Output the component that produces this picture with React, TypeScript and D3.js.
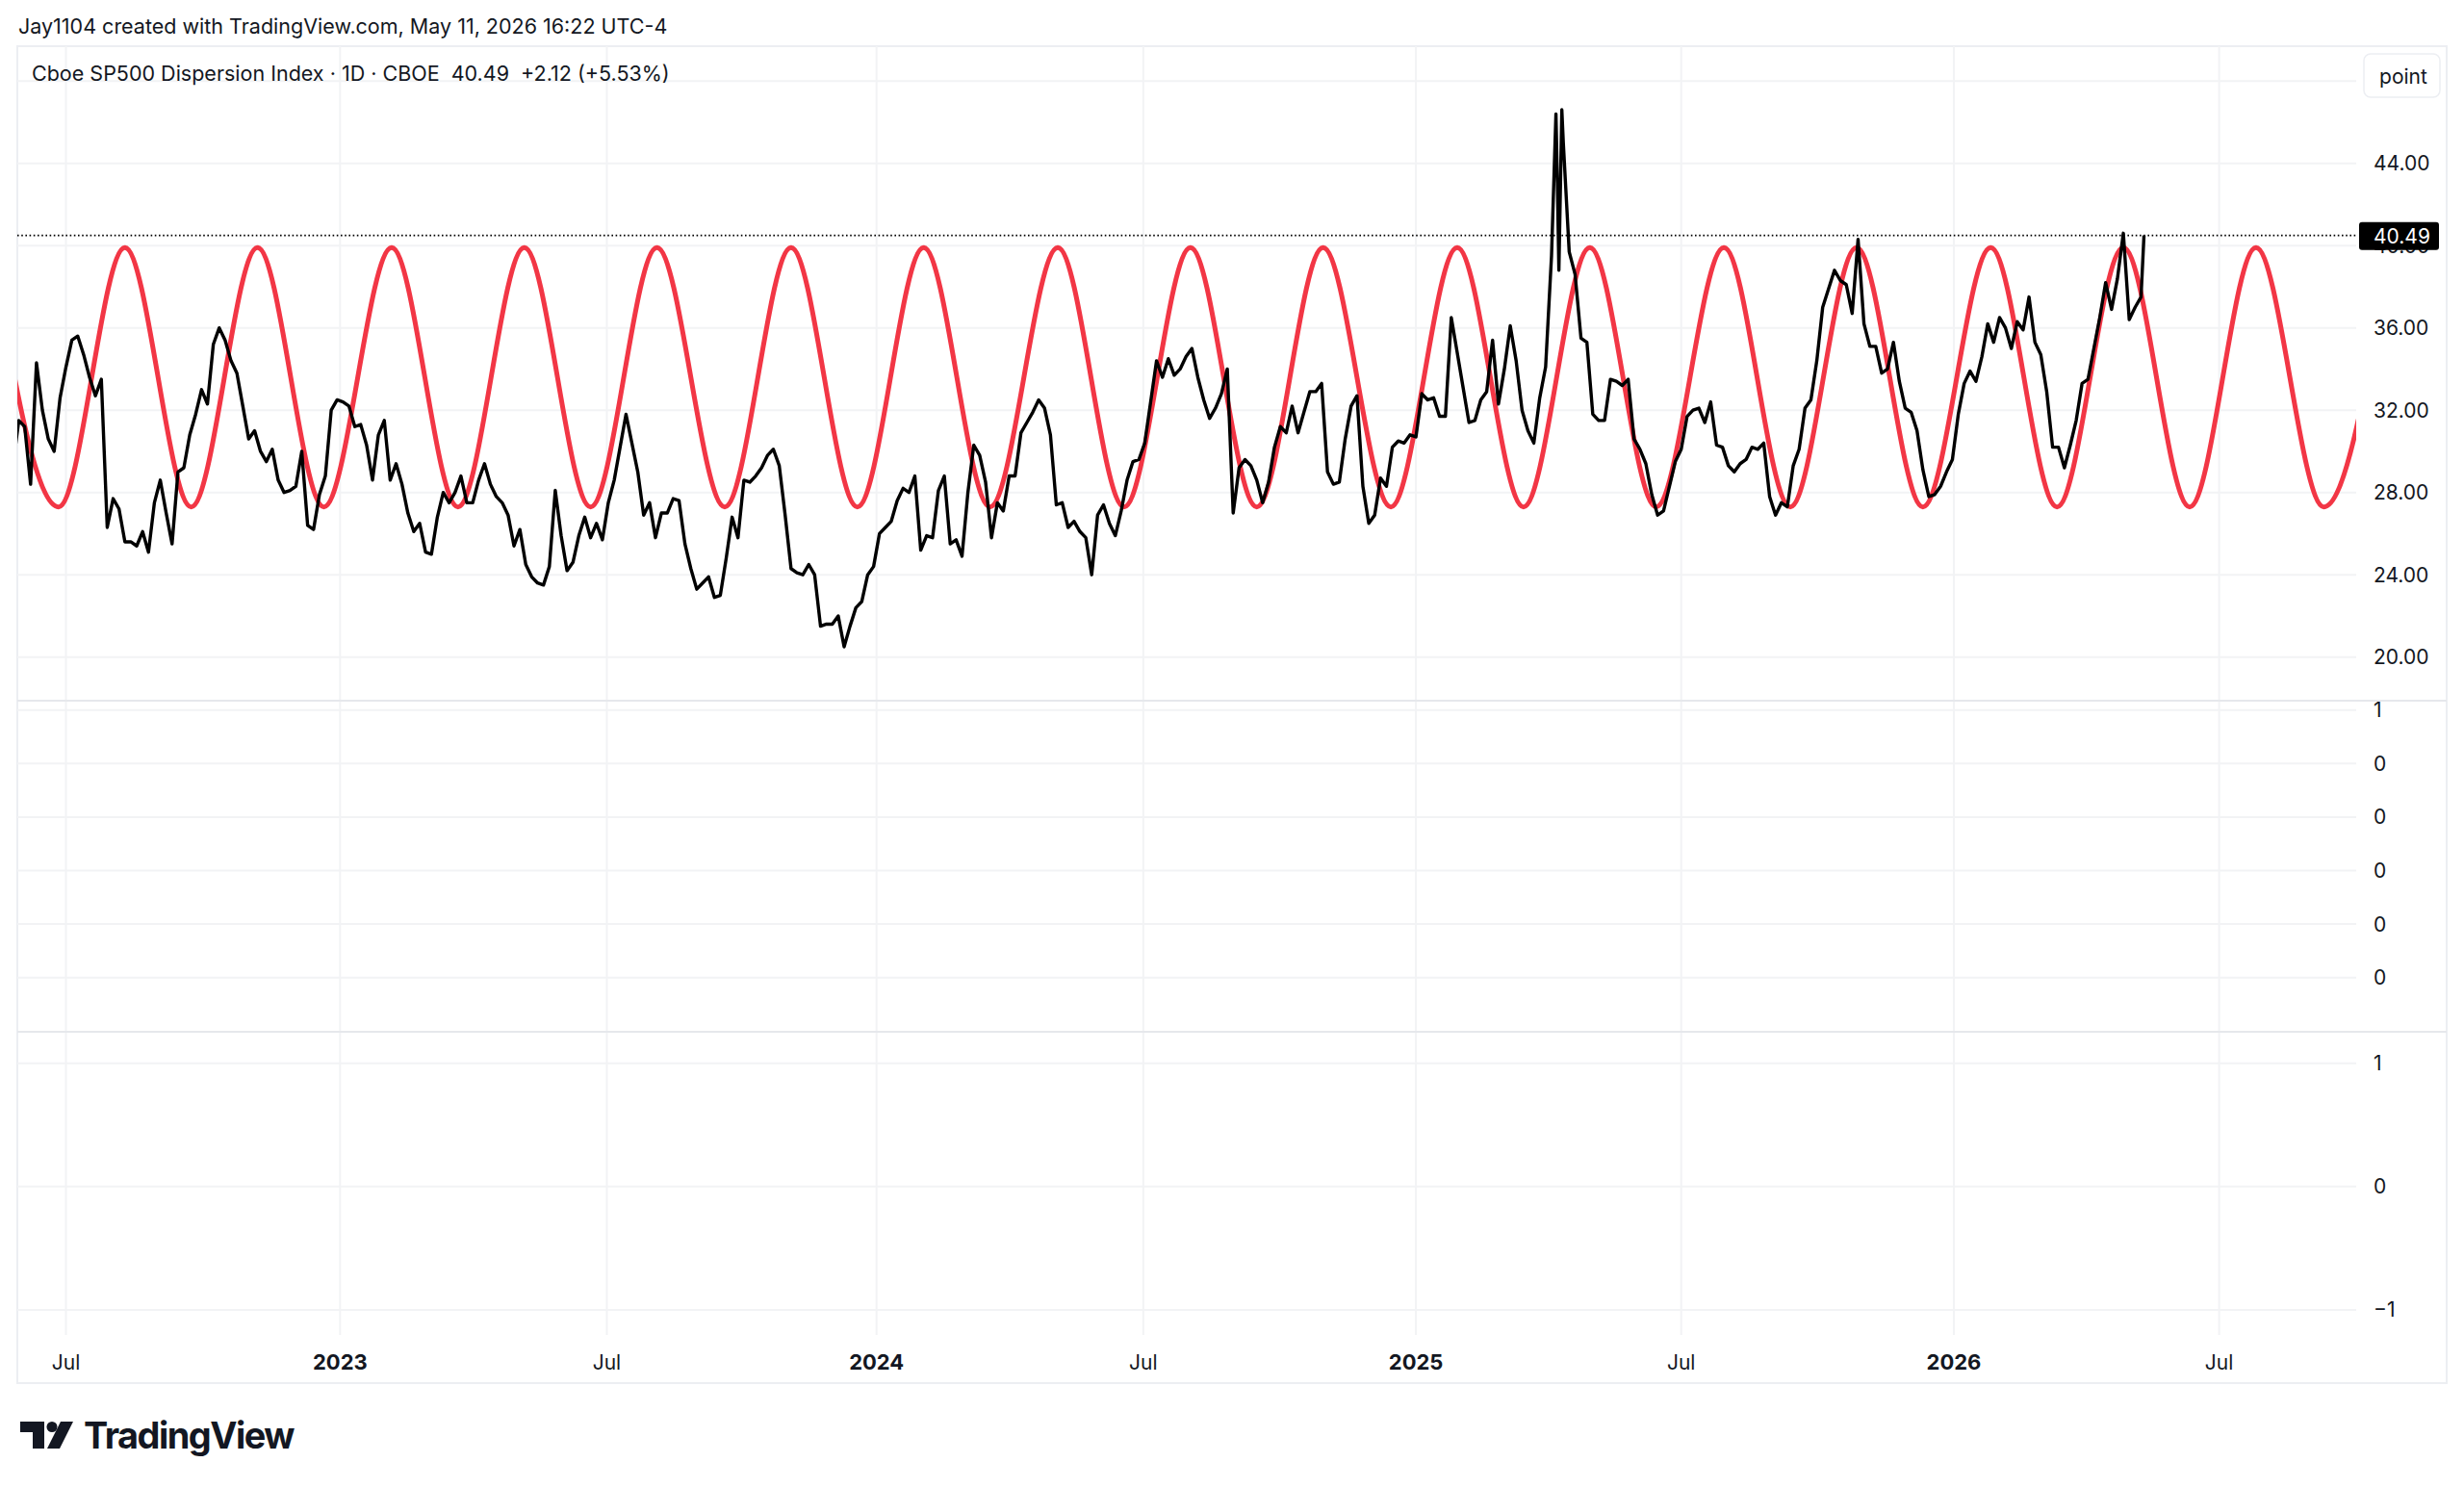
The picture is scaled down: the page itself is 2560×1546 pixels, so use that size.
import { useEffect, useRef } from 'react';
import * as d3 from 'd3';

// Cboe SP500 Dispersion Index (DSPX), daily close every 4 days
const seriesStart = '2022-05-26';
const sampleStepDays = 4;

const dspx2022 = [
  29.3, 31.5, 31.2, 28.4, 34.3, 32.0, 30.6, 30.0, 32.6, 34.1,
  35.4, 35.6, 34.7, 33.6, 32.7, 33.5, 26.3, 27.7, 27.2, 25.6,
  25.6, 25.4, 26.1, 25.1, 27.5, 28.6, 27.0, 25.5, 29.0, 29.2,
  30.8, 31.8, 33.0, 32.3, 35.2, 36.0, 35.4, 34.4, 33.8, 32.2,
  30.6, 31.0, 30.0, 29.5, 30.1, 28.6, 28.0, 28.1, 28.3, 30.0,
  26.4, 26.2, 27.9, 28.8, 32.0,
];
const dspx2023 = [
  32.5, 32.4, 32.2, 31.2, 31.3, 30.3, 28.6, 30.8, 31.5, 28.6,
  29.4, 28.4, 27.0, 26.1, 26.5, 25.1, 25.0, 26.8, 28.0, 27.5,
  28.0, 28.8, 27.5, 27.5, 28.6, 29.4, 28.4, 27.8, 27.5, 26.9,
  25.4, 26.2, 24.5, 23.9, 23.6, 23.5, 24.4, 28.1, 25.9, 24.2,
  24.6, 25.9, 26.8, 25.8, 26.5, 25.7, 27.5, 28.6, 30.2, 31.8,
  30.4, 29.0, 26.9, 27.5, 25.8, 27.0, 27.0, 27.7, 27.6, 25.5,
  24.3, 23.3, 23.6, 23.9, 22.9, 23.0, 24.8, 26.8, 25.8, 28.6,
  28.5, 28.8, 29.2, 29.8, 30.1, 29.3, 26.9, 24.3, 24.1, 24.0,
  24.5, 24.0, 21.5, 21.6, 21.6, 22.0, 20.5, 21.5, 22.4, 22.7,
  24.0, 24.4,
];
const dspx2024 = [
  26.0, 26.3, 26.6, 27.6, 28.2, 28.0, 28.8, 25.2, 25.9, 25.8,
  28.1, 28.8, 25.5, 25.7, 24.9, 28.0, 30.3, 29.8, 28.5, 25.8,
  27.5, 27.1, 28.8, 28.8, 30.9, 31.4, 31.9, 32.5, 32.1, 30.8,
  27.4, 27.5, 26.3, 26.6, 26.1, 25.8, 24.0, 26.9, 27.4, 26.5,
  25.9, 27.1, 28.6, 29.5, 29.6, 30.4, 32.4, 34.4, 33.6, 34.5,
  33.7, 34.0, 34.6, 35.0, 33.6, 32.5, 31.6, 32.1, 32.8, 34.0,
  27.0, 29.2, 29.6, 29.3, 28.6, 27.5, 28.5, 30.2, 31.2, 30.9,
  32.2, 30.9, 31.9, 32.9, 32.9, 33.3, 29.0, 28.4, 28.5, 30.6,
  32.2, 32.7, 28.3, 26.5, 26.9, 28.7, 28.3, 30.2, 30.5, 30.4,
  30.8,
];
const dspx2025 = [
  30.7, 32.8, 32.5, 32.6, 31.7, 31.7, 36.5, 34.8, 33.1, 31.4,
  31.5, 32.5, 32.9, 35.4, 32.3, 34.0, 36.1, 34.4, 32.0, 31.0,
  30.4, 32.6, 34.1, 39.5, 43.0, 45.0, 39.7, 38.6, 35.5, 35.3,
  31.8, 31.5, 31.5, 33.5, 33.4, 33.2, 33.5, 30.6, 30.1, 29.4,
  27.9, 26.9, 27.1, 28.3, 29.5, 30.1, 31.7, 32.0, 32.1, 31.4,
  32.4, 30.3, 30.2, 29.3, 29.0, 29.4, 29.6, 30.2, 30.1, 30.4,
  27.8, 26.9, 27.5, 27.3, 29.3, 30.1, 32.1, 32.5, 34.4, 37.0,
  37.9, 38.8, 38.3, 38.1, 36.7, 40.3, 36.2, 35.1, 35.1, 33.8,
  34.0, 35.3, 33.4, 32.1, 31.9, 31.0, 29.1, 27.8, 27.9, 28.3,
  29.0,
];
const dspx2026 = [
  29.6, 31.8, 33.3, 33.9, 33.4, 34.6, 36.2, 35.3, 36.5, 36.0,
  35.0, 36.3, 35.9, 37.5, 35.3, 34.7, 32.9, 30.2, 30.2, 29.2,
  30.3, 31.5, 33.3, 33.5, 35.0, 36.5, 38.2, 36.9, 38.4, 40.6,
  36.4, 37.0, 37.5,
];
// April 2025 double spike, read day by day
const dspxSpike: [string, number][] = [
  ['2025-04-07', 46.4],
  ['2025-04-09', 38.8],
  ['2025-04-11', 46.6],
];
const lastDate = '2026-05-11';
const lastValue = 40.49;

// red cycle line: turning points
const cyclePeaks = [
  '2022-05-11', '2022-08-10', '2022-11-08', '2023-02-07', '2023-05-08', '2023-08-06',
  '2023-11-05', '2024-02-03', '2024-05-04', '2024-08-02', '2024-10-31', '2025-01-30',
  '2025-04-30', '2025-07-30', '2025-10-28', '2026-01-27', '2026-04-27', '2026-07-26',
  '2026-10-25',
];
const cycleTroughs = [
  '2022-06-26', '2022-09-24', '2022-12-23', '2023-03-24', '2023-06-22', '2023-09-21',
  '2023-12-20', '2024-03-19', '2024-06-18', '2024-09-16', '2024-12-16', '2025-03-16',
  '2025-06-14', '2025-09-13', '2025-12-12', '2026-03-13', '2026-06-11', '2026-09-10',
];
const cycleHigh = 39.9;
const cycleLow = 27.3;

const priceTicks = [20, 24, 28, 32, 36, 40, 44, 48];
const priceLabelTicks = [20, 24, 28, 32, 36, 40, 44]; // 48.00 sits under the unit button
const pane2Ticks = [1, 0.8, 0.6, 0.4, 0.2, 0];
const pane2Labels = ['1', '0', '0', '0', '0', '0'];
const pane3Ticks = [1, 0, -1];
const pane3Labels = ['1', '0', '\u22121'];
const timeTicks = [
  '2022-07-01', '2023-01-03', '2023-07-03', '2024-01-02', '2024-07-01',
  '2025-01-02', '2025-07-01', '2026-01-02', '2026-07-01',
];
const timeLabels = ['Jul', '2023', 'Jul', '2024', 'Jul', '2025', 'Jul', '2026', 'Jul'];

const W = 2560;
const H = 1546;
const FONT = 'Inter, Roboto, "Noto Sans", sans-serif';
const INK = '#131722';

export default function App() {
  const svgRef = useRef<SVGSVGElement | null>(null);

  useEffect(() => {
    if (!svgRef.current) return;
    const svg = d3.select(svgRef.current);
    svg.selectAll('*').remove();

    const parse = d3.timeParse('%Y-%m-%d');
    const left = 18;
    const right = 2448;
    const top = 48;
    const pane1Bottom = 728;
    const pane2Bottom = 1072;
    const plotBottom = 1387;
    const frameRight = 2542;
    const frameBottom = 1437;
    const labelX = 2466;

    const x = d3
      .scaleTime()
      .domain([parse('2022-05-29')!, parse('2026-10-02')!])
      .range([left, right]);
    const y = d3.scaleLinear().domain([17.88, 49.69]).range([pane1Bottom, top]);
    const y2 = d3.scaleLinear().domain([-0.2026, 1.035]).range([pane2Bottom, pane1Bottom]);
    const y3 = d3.scaleLinear().domain([-1.203, 1.255]).range([plotBottom, pane2Bottom]);

    svg.append('rect').attr('width', W).attr('height', H).attr('fill', '#ffffff');

    // frame
    svg
      .append('rect')
      .attr('x', left)
      .attr('y', top)
      .attr('width', frameRight - left)
      .attr('height', frameBottom - top)
      .attr('fill', 'none')
      .attr('stroke', '#eceef2')
      .attr('stroke-width', 2);

    const grid = svg.append('g').attr('stroke', '#f2f3f5').attr('stroke-width', 2);
    grid
      .selectAll('line.v')
      .data(timeTicks)
      .join('line')
      .attr('x1', (d) => x(parse(d)!))
      .attr('x2', (d) => x(parse(d)!))
      .attr('y1', top)
      .attr('y2', plotBottom);
    grid
      .selectAll('line.p1')
      .data(priceTicks)
      .join('line')
      .attr('x1', left)
      .attr('x2', right)
      .attr('y1', (d) => y(d))
      .attr('y2', (d) => y(d));
    grid
      .selectAll('line.p2')
      .data(pane2Ticks)
      .join('line')
      .attr('x1', left)
      .attr('x2', right)
      .attr('y1', (d) => y2(d))
      .attr('y2', (d) => y2(d));
    grid
      .selectAll('line.p3')
      .data(pane3Ticks)
      .join('line')
      .attr('x1', left)
      .attr('x2', right)
      .attr('y1', (d) => y3(d))
      .attr('y2', (d) => y3(d));

    // pane separators
    svg
      .append('g')
      .attr('stroke', '#e6e8ec')
      .attr('stroke-width', 2)
      .selectAll('line')
      .data([pane1Bottom, pane2Bottom])
      .join('line')
      .attr('x1', left)
      .attr('x2', frameRight)
      .attr('y1', (d) => d)
      .attr('y2', (d) => d);

    // series
    const defs = svg.append('defs');
    defs
      .append('clipPath')
      .attr('id', 'pane1')
      .append('rect')
      .attr('x', left)
      .attr('y', top)
      .attr('width', right - left)
      .attr('height', pane1Bottom - top);

    type Pt = { date: Date; value: number };
    const cycle: Pt[] = [
      ...cyclePeaks.map((d) => ({ date: parse(d)!, value: cycleHigh })),
      ...cycleTroughs.map((d) => ({ date: parse(d)!, value: cycleLow })),
    ].sort((a, b) => +a.date - +b.date);

    const start = parse(seriesStart)!;
    const dspx: Pt[] = [...dspx2022, ...dspx2023, ...dspx2024, ...dspx2025, ...dspx2026].map(
      (v, i) => ({ date: d3.timeDay.offset(start, i * sampleStepDays), value: v }),
    );
    dspxSpike.forEach(([d, v]) => dspx.push({ date: parse(d)!, value: v }));
    dspx.push({ date: parse(lastDate)!, value: lastValue });
    dspx.sort((a, b) => +a.date - +b.date);

    const plot = svg.append('g').attr('clip-path', 'url(#pane1)');
    plot
      .append('path')
      .datum(cycle)
      .attr('fill', 'none')
      .attr('stroke', '#f23645')
      .attr('stroke-width', 5)
      .attr(
        'd',
        d3
          .line<Pt>()
          .x((d) => x(d.date))
          .y((d) => y(d.value))
          .curve(d3.curveMonotoneX),
      );
    plot
      .append('path')
      .datum(dspx)
      .attr('fill', 'none')
      .attr('stroke', '#000000')
      .attr('stroke-width', 3.4)
      .attr('stroke-linejoin', 'round')
      .attr(
        'd',
        d3
          .line<Pt>()
          .x((d) => x(d.date))
          .y((d) => y(d.value)),
      );

    // last price line
    svg
      .append('line')
      .attr('x1', left)
      .attr('x2', right)
      .attr('y1', y(lastValue))
      .attr('y2', y(lastValue))
      .attr('stroke', '#000000')
      .attr('stroke-width', 1.6)
      .attr('stroke-dasharray', '1.6 2.6');

    // price scale labels
    const labels = svg
      .append('g')
      .attr('font-family', FONT)
      .attr('font-size', 21)
      .attr('fill', INK)
      .attr('dominant-baseline', 'central');
    labels
      .selectAll('text.p1')
      .data(priceLabelTicks)
      .join('text')
      .attr('x', labelX)
      .attr('y', (d) => y(d))
      .text((d) => d.toFixed(2));
    labels
      .selectAll('text.p2')
      .data(pane2Ticks)
      .join('text')
      .attr('x', labelX)
      .attr('y', (d) => y2(d))
      .text((_, i) => pane2Labels[i]);
    labels
      .selectAll('text.p3')
      .data(pane3Ticks)
      .join('text')
      .attr('x', labelX)
      .attr('y', (d) => y3(d))
      .text((_, i) => pane3Labels[i]);

    // last value badge
    const ly = y(lastValue);
    svg
      .append('rect')
      .attr('x', 2451)
      .attr('y', ly - 14)
      .attr('width', 83)
      .attr('height', 29)
      .attr('rx', 3)
      .attr('fill', '#000000');
    svg
      .append('text')
      .attr('x', labelX)
      .attr('y', ly + 1)
      .attr('font-family', FONT)
      .attr('font-size', 21)
      .attr('fill', '#ffffff')
      .attr('dominant-baseline', 'central')
      .text(lastValue.toFixed(2));

    // unit button
    svg
      .append('rect')
      .attr('x', 2456)
      .attr('y', 56)
      .attr('width', 79)
      .attr('height', 45)
      .attr('rx', 7)
      .attr('fill', '#ffffff')
      .attr('stroke', '#eceef2')
      .attr('stroke-width', 1.5);
    svg
      .append('text')
      .attr('x', 2497)
      .attr('y', 79)
      .attr('text-anchor', 'middle')
      .attr('dominant-baseline', 'central')
      .attr('font-family', FONT)
      .attr('font-size', 21)
      .attr('fill', INK)
      .text('point');

    // time scale labels
    svg
      .append('g')
      .attr('font-family', FONT)
      .attr('font-size', 21)
      .attr('fill', INK)
      .attr('text-anchor', 'middle')
      .attr('dominant-baseline', 'central')
      .selectAll('text')
      .data(timeTicks)
      .join('text')
      .attr('x', (d) => x(parse(d)!))
      .attr('y', 1415)
      .attr('font-weight', (_, i) => (/^\d/.test(timeLabels[i]) ? 700 : 400))
      .attr('font-size', (_, i) => (/^\d/.test(timeLabels[i]) ? 22 : 21))
      .text((_, i) => timeLabels[i]);

    // headers
    svg
      .append('text')
      .attr('x', 19)
      .attr('y', 35)
      .attr('font-family', FONT)
      .attr('font-size', 21.5)
      .attr('fill', INK)
      .text('Jay1104 created with TradingView.com, May 11, 2026 16:22 UTC-4');
    svg
      .append('text')
      .attr('x', 33)
      .attr('y', 84)
      .attr('font-family', FONT)
      .attr('font-size', 21.5)
      .attr('fill', INK)
      .style('white-space', 'pre')
      .text('Cboe SP500 Dispersion Index \u00b7 1D \u00b7 CBOE  40.49  +2.12 (+5.53%)');

    // TradingView logo
    const logo = svg.append('g').attr('fill', INK);
    logo.append('path').attr('d', 'M21 1477 H46 V1505 H34 V1488 H21 Z');
    logo.append('circle').attr('cx', 54).attr('cy', 1482.5).attr('r', 5.5);
    logo.append('path').attr('d', 'M63 1477 H76 L62 1505 H49 Z');
    logo
      .append('text')
      .attr('x', 87)
      .attr('y', 1505)
      .attr('font-family', FONT)
      .attr('font-size', 38)
      .attr('font-weight', 700)
      .attr('letter-spacing', -1.5)
      .attr('textLength', 218)
      .attr('lengthAdjust', 'spacingAndGlyphs')
      .text('TradingView');
  }, []);

  return (
    <svg
      ref={svgRef}
      width={W}
      height={H}
      style={{ position: 'absolute', left: 0, top: 0, display: 'block' }}
      role="img"
      aria-label="Cboe SP500 Dispersion Index"
    />
  );
}
